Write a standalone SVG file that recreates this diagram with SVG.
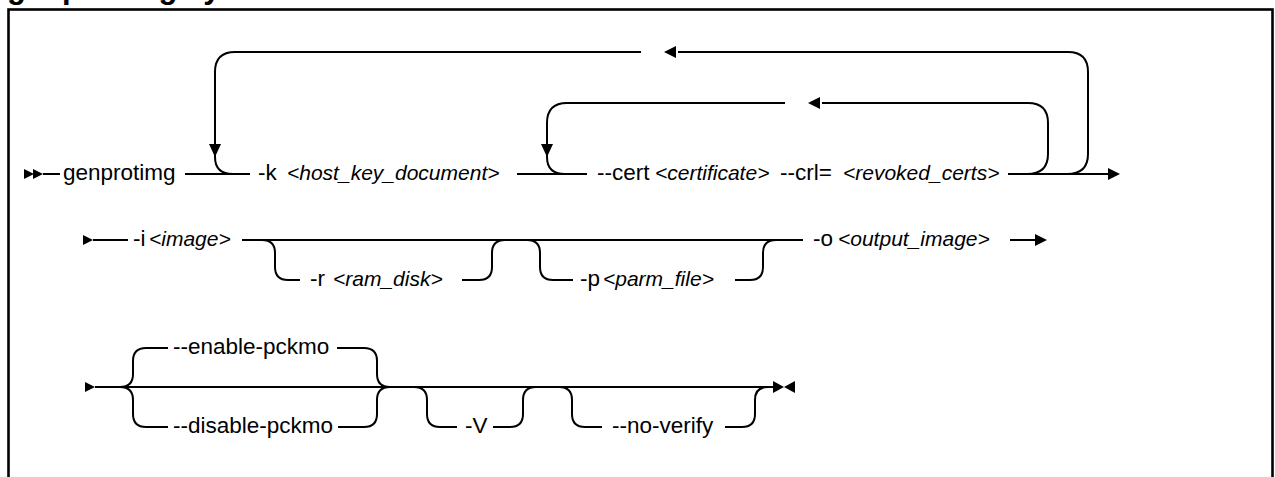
<svg xmlns="http://www.w3.org/2000/svg" xmlns:xlink="http://www.w3.org/1999/xlink" width="1275" height="477" viewBox="0 0 1275 477">
  <style>
    .ln { fill: none; stroke: #000; stroke-width: 2; }
    .frame { fill: none; stroke: #000; stroke-width: 2.6; }
    .ah { fill: #000; stroke: none; }
    .t { font-family: "Liberation Sans", Arial, sans-serif; font-size: 22.5px; fill: #000; }
    .v { font-style: italic; font-size: 21px; }
    .title { font-family: "Liberation Sans", Arial, sans-serif; font-size: 31px; font-weight: bold; fill: #000; }
  </style>
  <defs>
    <!-- arrowheads, tip at the origin -->
    <path id="arrR" class="ah" d="M0,0 L-12,-6 L-12,6 Z"/>
    <path id="arrL" class="ah" d="M0,0 L12,-6 L12,6 Z"/>
    <path id="arrD" class="ah" d="M0,0 L-6,-13 L6,-13 Z"/>
    <path id="triR" class="ah" d="M0,0 L-10,-5 L-10,5 Z"/>
  </defs>

  <rect width="1275" height="477" fill="#fff"/>

  <!-- heading, clipped by the top edge -->
  <text class="title" x="7" y="-2.5">genprotimg syntax</text>

  <!-- frame -->
  <rect class="frame" x="8.5" y="9.5" width="1264" height="480"/>

  <g id="connectors">
    <!-- row 1 -->
    <use xlink:href="#triR" x="34" y="174"/>
    <use xlink:href="#triR" x="43" y="174"/>
    <path class="ln" d="M43,174 H60"/>
    <path class="ln" d="M185,174 H250"/>
    <path class="ln" d="M1067,174 Q1088,174 1088,154 V72 Q1088,52 1068,52 H678"/>
    <use xlink:href="#arrL" x="664" y="52"/>
    <path class="ln" d="M641,52 H235 Q215,52 215,72 V157 Q215,174 233,174"/>
    <use xlink:href="#arrD" x="215" y="157"/>
    <path class="ln" d="M517,174 H587"/>
    <path class="ln" d="M1027,174 Q1048,174 1048,154 V123 Q1048,103 1028,103 H822"/>
    <use xlink:href="#arrL" x="808" y="103"/>
    <path class="ln" d="M785,103 H567 Q547,103 547,123 V157 Q547,174 565,174"/>
    <use xlink:href="#arrD" x="547" y="157"/>
    <path class="ln" d="M1008,174 H1110"/>
    <use xlink:href="#arrR" x="1120" y="174"/>

    <!-- row 2 -->
    <use xlink:href="#triR" x="93" y="240"/>
    <path class="ln" d="M93,240 H128"/>
    <path class="ln" d="M242,240 H803"/>
    <path class="ln" d="M262,240 Q275,240 275,253 V267 Q275,280 288,280 H300"/>
    <path class="ln" d="M462,280 H479 Q492,280 492,267 V253 Q492,240 505,240"/>
    <path class="ln" d="M527,240 Q540,240 540,253 V267 Q540,280 553,280 H573"/>
    <path class="ln" d="M735,280 H750 Q763,280 763,267 V253 Q763,240 776,240"/>
    <path class="ln" d="M1010,240 H1037"/>
    <use xlink:href="#arrR" x="1047" y="240"/>

    <!-- row 3 -->
    <use xlink:href="#triR" x="95" y="387"/>
    <path class="ln" d="M95,387 H773"/>
    <path class="ln" d="M120,387 Q133,387 133,374 V361 Q133,348 146,348 H168"/>
    <path class="ln" d="M120,387 Q133,387 133,400 V414 Q133,427 146,427 H168"/>
    <path class="ln" d="M337,348 H364 Q377,348 377,361 V374 Q377,387 390,387"/>
    <path class="ln" d="M338,427 H364 Q377,427 377,414 V400 Q377,387 390,387"/>
    <path class="ln" d="M414,387 Q427,387 427,400 V414 Q427,427 440,427 H457"/>
    <path class="ln" d="M493,427 H510 Q523,427 523,414 V400 Q523,387 536,387"/>
    <path class="ln" d="M559,387 Q572,387 572,400 V414 Q572,427 585,427 H602"/>
    <path class="ln" d="M725,427 H742 Q755,427 755,414 V400 Q755,387 768,387"/>
    <!-- end-of-syntax mark -->
    <path class="ah" d="M773,381 L784,387 L773,393 Z"/>
    <path class="ah" d="M795,381 L784,387 L795,393 Z"/>
  </g>

  <g id="cmd"><text class="t" x="63" y="180">genprotimg</text></g>
  <g id="opt-k"><text class="t" x="258" y="180">-k<tspan class="v" x="287">&lt;host_key_document&gt;</tspan></text></g>
  <g id="opt-cert"><text class="t" x="597" y="180">--cert<tspan class="v" x="655">&lt;certificate&gt;</tspan><tspan x="780">--crl=</tspan><tspan class="v" x="843">&lt;revoked_certs&gt;</tspan></text></g>

  <g id="opt-i"><text class="t" x="133" y="246">-i<tspan class="v" x="149">&lt;image&gt;</tspan></text></g>
  <g id="opt-r"><text class="t" x="310" y="286">-r<tspan class="v" x="333">&lt;ram_disk&gt;</tspan></text></g>
  <g id="opt-p"><text class="t" x="580" y="286">-p<tspan class="v" x="603">&lt;parm_file&gt;</tspan></text></g>
  <g id="opt-o"><text class="t" x="813" y="246">-o<tspan class="v" x="838">&lt;output_image&gt;</tspan></text></g>

  <g id="opt-enable"><text class="t" x="173" y="354">--enable-pckmo</text></g>
  <g id="opt-disable"><text class="t" x="173" y="433">--disable-pckmo</text></g>
  <g id="opt-V"><text class="t" x="465" y="433">-V</text></g>
  <g id="opt-noverify"><text class="t" x="612" y="433">--no-verify</text></g>
</svg>
